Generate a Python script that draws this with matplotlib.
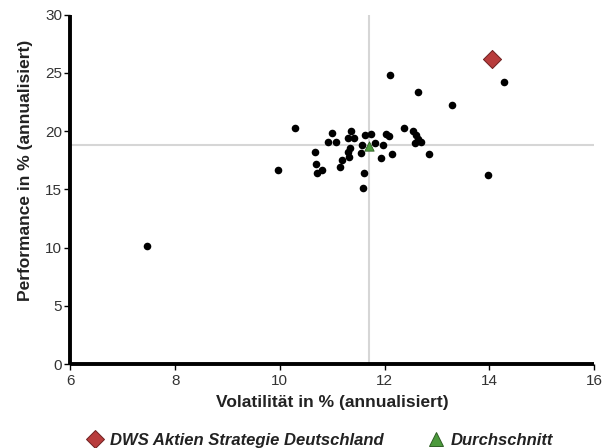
import matplotlib.pyplot as plt
from matplotlib.lines import Line2D

plt.rcParams["font.family"] = ["Liberation Sans", "DejaVu Sans"]

# peer group funds: volatility / performance (% p.a.)
peer_vol = [12.11, 14.28, 12.64, 13.28, 10.29, 12.37, 11.00, 11.35, 11.62, 11.74,
            12.02, 12.09, 12.54, 12.60, 12.64, 12.69, 12.58, 10.92, 11.07, 11.30,
            11.42, 11.34, 11.30, 11.32, 11.18, 11.14, 11.56, 11.55, 10.67, 10.70,
            10.80, 10.71, 9.97, 11.61, 11.58, 11.94, 12.14, 11.81, 11.97, 12.85,
            13.98, 7.46]
peer_perf = [24.83, 24.25, 23.37, 22.22, 20.25, 20.25, 19.87, 20.04, 19.67, 19.76,
             19.76, 19.61, 20.04, 19.67, 19.30, 19.10, 18.96, 19.10, 19.10, 19.39,
             19.39, 18.53, 18.24, 17.76, 17.53, 16.90, 18.81, 18.10, 18.24, 17.18,
             16.67, 16.38, 16.67, 16.38, 15.09, 17.72, 18.04, 18.96, 18.81, 18.07,
             16.24, 10.16]

fund_name = "DWS Aktien Strategie Deutschland"
fund_vol = 14.05
fund_perf = 26.2

avg_name = "Durchschnitt"
avg_vol = 11.70
avg_perf = 18.84

x_ticks = [6, 8, 10, 12, 14, 16]
y_ticks = [0, 5, 10, 15, 20, 25, 30]

fig = plt.figure(figsize=(6.14, 4.48), dpi=100)
ax = fig.add_axes([0.1147, 0.1875, 0.8527, 0.7797])

ax.axvline(avg_vol, color="#d6d6d6", lw=1.5, zorder=1)
ax.axhline(avg_perf, color="#d6d6d6", lw=1.5, zorder=1)

ax.scatter(peer_vol, peer_perf, s=30, color="black", zorder=3, linewidths=0)
ax.scatter([avg_vol], [avg_perf - 0.1], marker="^", s=45, color="#4c9a3c",
           edgecolors="#2f5f25", linewidths=0.6, zorder=4)
ax.scatter([fund_vol], [fund_perf], marker="D", s=85, color="#b83c3c",
           edgecolors="#6e2020", linewidths=0.7, zorder=5)

ax.set_xlim(x_ticks[0], x_ticks[-1])
ax.set_ylim(y_ticks[0], y_ticks[-1])
ax.set_xticks(x_ticks)
ax.set_yticks(y_ticks)

for side in ["top", "right"]:
    ax.spines[side].set_visible(False)
for side in ["left", "bottom"]:
    ax.spines[side].set_linewidth(2.8)
    ax.spines[side].set_color("black")
    ax.spines[side].set_capstyle("butt")

ax.tick_params(direction="out", length=4, width=1, color="black",
               labelsize=11, labelcolor="#333333")
ax.tick_params(axis="x", pad=3)
ax.tick_params(axis="y", pad=2)

ax.set_xlabel("Volatilität in % (annualisiert)", fontsize=12.5, fontweight="bold",
              color="#222222", labelpad=5)
ax.set_ylabel("Performance in % (annualisiert)", fontsize=12.5, fontweight="bold",
              color="#222222")
ax.yaxis.set_label_coords(-0.072, 0.555)

handles = [
    Line2D([], [], ls="none", marker="D", ms=9, mfc="#b83c3c", mec="#6e2020", mew=0.7),
    Line2D([], [], ls="none", marker="^", ms=10, mfc="#4c9a3c", mec="#2f5f25", mew=0.7),
]
leg = fig.legend(handles, [fund_name, avg_name], loc="center",
                 bbox_to_anchor=(0.52, 1 - 440 / 448), ncol=2, frameon=False,
                 prop={"size": 12, "weight": "bold", "style": "italic"},
                 handletextpad=0.3, columnspacing=2.5, handlelength=1.2)
for t in leg.get_texts():
    t.set_color("#222222")

fig.savefig("out.png", dpi=100)
